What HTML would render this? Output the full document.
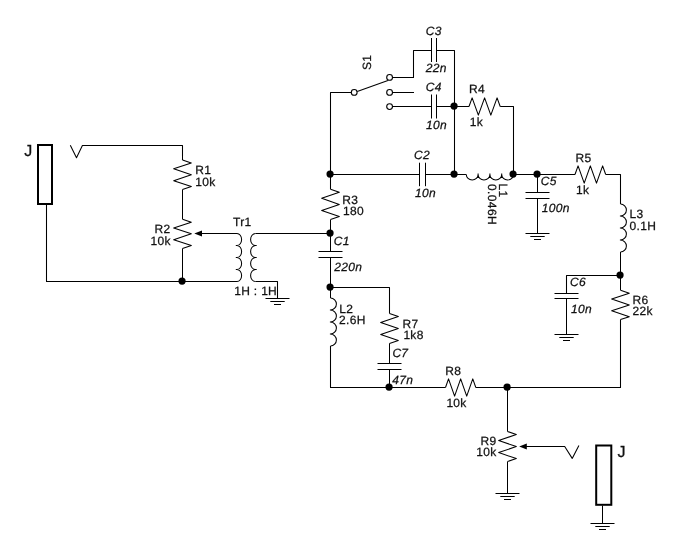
<!DOCTYPE html>
<html><head><meta charset="utf-8"><title>Circuit</title>
<style>
html,body{margin:0;padding:0;background:#fff;}
body{width:678px;height:552px;overflow:hidden;}
svg{display:block;}
svg path,svg polyline{fill:none;stroke:#000;stroke-width:1.05;stroke-linejoin:round;stroke-linecap:butt;}
svg .d{fill:#000;stroke:none;}
svg .o{fill:#fff;stroke:#000;stroke-width:1.1;}
svg .r{fill:#fff;stroke:#000;stroke-width:2;}
svg text{font-family:"Liberation Sans",sans-serif;fill:#111;stroke:none;text-rendering:geometricPrecision;}
svg{will-change:transform;transform:translateZ(0);}
svg .t{font-size:12px;stroke:#111;stroke-width:0.25;letter-spacing:0.3px;}
svg .i{font-size:12px;font-style:italic;stroke:#111;stroke-width:0.25;letter-spacing:0.3px;}
svg .w{font-size:12px;letter-spacing:0.38px;stroke:#111;stroke-width:0.25;}
svg .j{font-size:16px;stroke:#111;stroke-width:0.3;}
</style></head><body>
<svg width="678" height="552" viewBox="0 0 678 552">
<rect x="0" y="0" width="678" height="552" fill="#fff" stroke="none"/>
<rect x="38" y="145" width="14" height="59" class="r"/>
<path d="M46.50 205.00 L46.50 281.50 L237.00 281.50"/>
<path d="M70.30 145.30 L76.50 157.70 L82.40 145.50 L182.50 145.50 L182.50 160.00"/>
<polyline points="182.50,160.00 191.30,162.95 173.70,168.85 191.30,174.75 173.70,180.65 191.30,186.55 182.50,189.50"/>
<path d="M182.50 189.50 L182.50 219.20"/>
<polyline points="182.50,219.20 191.30,222.13 173.70,227.99 191.30,233.85 173.70,239.71 191.30,245.57 182.50,248.50"/>
<path d="M182.50 248.50 L182.50 281.50"/>
<circle cx="182.05" cy="281.05" r="3.60" class="d"/>
<path d="M194.3 233.5 L202 230.6 L202 236.4 Z" class="d"/>
<path d="M201.00 233.50 L237.00 233.50"/>
<path d="M237.00 233.50 a4.60 6.00 0 0 1 0 12.00 a4.60 6.00 0 0 1 0 12.00 a4.60 6.00 0 0 1 0 12.00 a4.60 6.00 0 0 1 0 12.00 M237.00 245.50 h-1.20 M237.00 257.50 h-1.20 M237.00 269.50 h-1.20" class="c"/>
<path d="M255.50 233.50 a4.90 6.00 0 0 0 0 12.00 a4.90 6.00 0 0 0 0 12.00 a4.90 6.00 0 0 0 0 12.00 a4.90 6.00 0 0 0 0 12.00 M255.50 245.50 h1.20 M255.50 257.50 h1.20 M255.50 269.50 h1.20" class="c"/>
<path d="M255.50 233.50 L330.50 233.50"/>
<path d="M255.50 281.50 L277.50 281.50 L277.50 298.50"/>
<path d="M265.50 298.50 L289.50 298.50"/>
<path d="M270.30 301.50 L284.70 301.50"/>
<path d="M274.00 304.50 L281.00 304.50"/>
<path d="M351.30 92.50 L330.50 92.50 L330.50 189.20"/>
<polyline points="330.50,189.20 339.30,192.24 321.70,198.32 339.30,204.40 321.70,210.48 339.30,216.56 330.50,219.60"/>
<path d="M330.50 219.60 L330.50 251.50"/>
<path d="M318.50 251.50 L342.50 251.50"/>
<path d="M318.50 257.50 L342.50 257.50"/>
<path d="M330.50 257.50 L330.50 298.00"/>
<path d="M330.50 298.00 a5.90 6.00 0 0 1 0 12.00 a5.90 6.00 0 0 1 0 12.00 a5.90 6.00 0 0 1 0 12.00 a5.90 6.00 0 0 1 0 12.00 M330.50 310.00 h-0.60 M330.50 322.00 h-0.60 M330.50 334.00 h-0.60" class="c"/>
<path d="M330.50 346.00 L330.50 387.50 L445.50 387.50"/>
<circle cx="330.05" cy="174.05" r="3.60" class="d"/>
<circle cx="330.05" cy="233.05" r="3.60" class="d"/>
<circle cx="330.05" cy="287.05" r="3.60" class="d"/>
<circle cx="354.20" cy="92.40" r="2.9" class="o"/>
<circle cx="389.60" cy="77.40" r="2.9" class="o"/>
<circle cx="389.60" cy="92.40" r="2.9" class="o"/>
<circle cx="389.60" cy="106.60" r="2.9" class="o"/>
<path d="M357.20 91.50 L387.90 80.50"/>
<path d="M392.50 77.50 L413.50 77.50 L413.50 50.50 L431.50 50.50"/>
<path d="M431.50 38.00 L431.50 62.00"/>
<path d="M436.50 38.00 L436.50 62.00"/>
<path d="M436.50 50.50 L454.50 50.50 L454.50 174.50"/>
<path d="M392.50 92.50 L414.00 92.50"/>
<path d="M392.50 106.50 L431.50 106.50"/>
<path d="M431.50 94.50 L431.50 118.50"/>
<path d="M436.50 94.50 L436.50 118.50"/>
<path d="M436.50 106.50 L469.00 106.50"/>
<circle cx="454.05" cy="106.05" r="3.60" class="d"/>
<circle cx="454.05" cy="174.05" r="3.60" class="d"/>
<polyline points="469.00,106.50 472.12,97.90 478.36,115.10 484.60,97.90 490.84,115.10 497.08,97.90 500.20,106.50"/>
<path d="M500.20 106.50 L513.50 106.50 L513.50 174.50"/>
<path d="M330.50 174.50 L419.50 174.50"/>
<path d="M419.50 162.70 L419.50 186.20"/>
<path d="M425.50 162.70 L425.50 186.20"/>
<path d="M425.50 174.50 L466.30 174.50"/>
<path d="M466.30 174.50 a5.90 5.50 0 0 0 11.80 0 a5.90 5.50 0 0 0 11.80 0 a5.90 5.50 0 0 0 11.80 0 a5.90 5.50 0 0 0 11.80 0 M478.10 174.50 v-1.00 M489.90 174.50 v-1.00 M501.70 174.50 v-1.00" class="c"/>
<circle cx="513.05" cy="174.05" r="3.60" class="d"/>
<circle cx="537.05" cy="174.05" r="3.60" class="d"/>
<path d="M513.50 174.50 L575.00 174.50"/>
<path d="M537.50 174.50 L537.50 192.50"/>
<path d="M525.50 192.50 L549.50 192.50"/>
<path d="M525.50 198.50 L549.50 198.50"/>
<path d="M537.50 198.50 L537.50 233.50"/>
<path d="M525.50 233.50 L549.50 233.50"/>
<path d="M530.30 236.50 L544.70 236.50"/>
<path d="M534.00 239.50 L541.00 239.50"/>
<polyline points="575.00,174.50 578.07,165.90 584.21,183.10 590.35,165.90 596.49,183.10 602.63,165.90 605.70,174.50"/>
<path d="M605.70 174.50 L620.50 174.50 L620.50 204.00"/>
<path d="M620.50 204.00 a5.90 6.00 0 0 1 0 12.00 a5.90 6.00 0 0 1 0 12.00 a5.90 6.00 0 0 1 0 12.00 a5.90 6.00 0 0 1 0 12.00 M620.50 216.00 h-0.60 M620.50 228.00 h-0.60 M620.50 240.00 h-0.60" class="c"/>
<path d="M620.50 252.00 L620.50 290.20"/>
<circle cx="620.05" cy="275.05" r="3.60" class="d"/>
<path d="M620.50 275.50 L566.50 275.50 L566.50 293.50"/>
<path d="M554.50 293.50 L578.50 293.50"/>
<path d="M554.50 298.50 L578.50 298.50"/>
<path d="M566.50 298.50 L566.50 334.50"/>
<path d="M554.50 334.50 L578.50 334.50"/>
<path d="M559.30 337.50 L573.70 337.50"/>
<path d="M563.00 340.50 L570.00 340.50"/>
<polyline points="620.50,290.20 629.30,293.14 611.70,299.02 629.30,304.90 611.70,310.78 629.30,316.66 620.50,319.60"/>
<path d="M620.50 319.60 L620.50 387.50 L475.80 387.50"/>
<path d="M330.50 287.50 L389.50 287.50 L389.50 313.50"/>
<polyline points="389.50,313.50 398.30,316.49 380.70,322.47 398.30,328.45 380.70,334.43 398.30,340.41 389.50,343.40"/>
<path d="M389.50 343.40 L389.50 363.50"/>
<path d="M377.50 363.50 L401.50 363.50"/>
<path d="M377.50 369.50 L401.50 369.50"/>
<path d="M389.50 369.50 L389.50 387.50"/>
<circle cx="389.05" cy="387.05" r="3.60" class="d"/>
<polyline points="445.50,387.50 448.53,378.90 454.59,396.10 460.65,378.90 466.71,396.10 472.77,378.90 475.80,387.50"/>
<circle cx="507.05" cy="387.05" r="3.60" class="d"/>
<path d="M507.50 387.50 L507.50 431.50"/>
<polyline points="507.50,431.50 516.30,434.51 498.70,440.53 516.30,446.55 498.70,452.57 516.30,458.59 507.50,461.60"/>
<path d="M507.50 461.60 L507.50 493.50"/>
<path d="M495.50 493.50 L519.50 493.50"/>
<path d="M500.30 496.50 L514.70 496.50"/>
<path d="M504.00 499.50 L511.00 499.50"/>
<path d="M519.2 446.5 L526.8 443.5 L526.8 449.5 Z" class="d"/>
<path d="M526.00 446.50 L564.70 446.50 L572.20 458.40 L578.90 445.40"/>
<rect x="596.2" y="445.5" width="15.1" height="59.3" class="r"/>
<path d="M602.50 505.50 L602.50 523.50"/>
<path d="M590.50 523.50 L614.50 523.50"/>
<path d="M595.30 526.50 L609.70 526.50"/>
<path d="M599.00 529.50 L606.00 529.50"/>
<text x="24.30" y="155.80" class="j">J</text>
<text x="617.50" y="457.00" class="j">J</text>
<text x="195.30" y="173.60" class="t">R1</text>
<text x="195.30" y="185.60" class="t">10k</text>
<text x="154.50" y="232.90" class="t">R2</text>
<text x="150.60" y="244.50" class="t">10k</text>
<text x="233.00" y="226.00" class="t">Tr1</text>
<text x="234.30" y="294.50" class="t">1H : 1H</text>
<text x="342.20" y="204.20" class="t">R3</text>
<text x="343.00" y="215.10" class="t">180</text>
<text x="333.70" y="245.00" class="i">C1</text>
<text x="334.30" y="271.00" class="i">220n</text>
<text x="339.30" y="312.60" class="t">L2</text>
<text x="339.10" y="324.40" class="t">2.6H</text>
<text x="402.60" y="328.20" class="t">R7</text>
<text x="403.40" y="339.10" class="t">1k8</text>
<text x="392.40" y="356.80" class="i">C7</text>
<text x="392.30" y="383.70" class="i">47n</text>
<text x="425.80" y="35.00" class="i">C3</text>
<text x="425.80" y="72.30" class="i">22n</text>
<text x="425.80" y="90.80" class="i">C4</text>
<text x="426.00" y="129.10" class="i">10n</text>
<text x="414.00" y="158.80" class="i">C2</text>
<text x="415.00" y="197.00" class="i">10n</text>
<text x="469.10" y="93.30" class="t">R4</text>
<text x="469.70" y="126.10" class="t">1k</text>
<text x="540.80" y="185.40" class="i">C5</text>
<text x="541.80" y="211.50" class="i">100n</text>
<text x="575.50" y="162.00" class="t">R5</text>
<text x="576.00" y="193.70" class="t">1k</text>
<text x="629.60" y="217.80" class="t">L3</text>
<text x="629.60" y="229.60" class="t">0.1H</text>
<text x="570.00" y="286.00" class="i">C6</text>
<text x="571.00" y="312.60" class="i">10n</text>
<text x="632.50" y="304.00" class="t">R6</text>
<text x="632.50" y="315.40" class="t">22k</text>
<text x="445.20" y="374.80" class="t">R8</text>
<text x="446.40" y="406.80" class="t">10k</text>
<text x="480.60" y="445.20" class="t">R9</text>
<text x="476.20" y="456.30" class="t">10k</text>
<text transform="translate(371.30 70.00) rotate(-90)" class="t">S1</text>
<text transform="translate(498.90 183.60) rotate(90)" class="t">L1</text>
<text transform="translate(487.70 184.00) rotate(90)" class="w">0.046H</text>
</svg>
</body></html>
